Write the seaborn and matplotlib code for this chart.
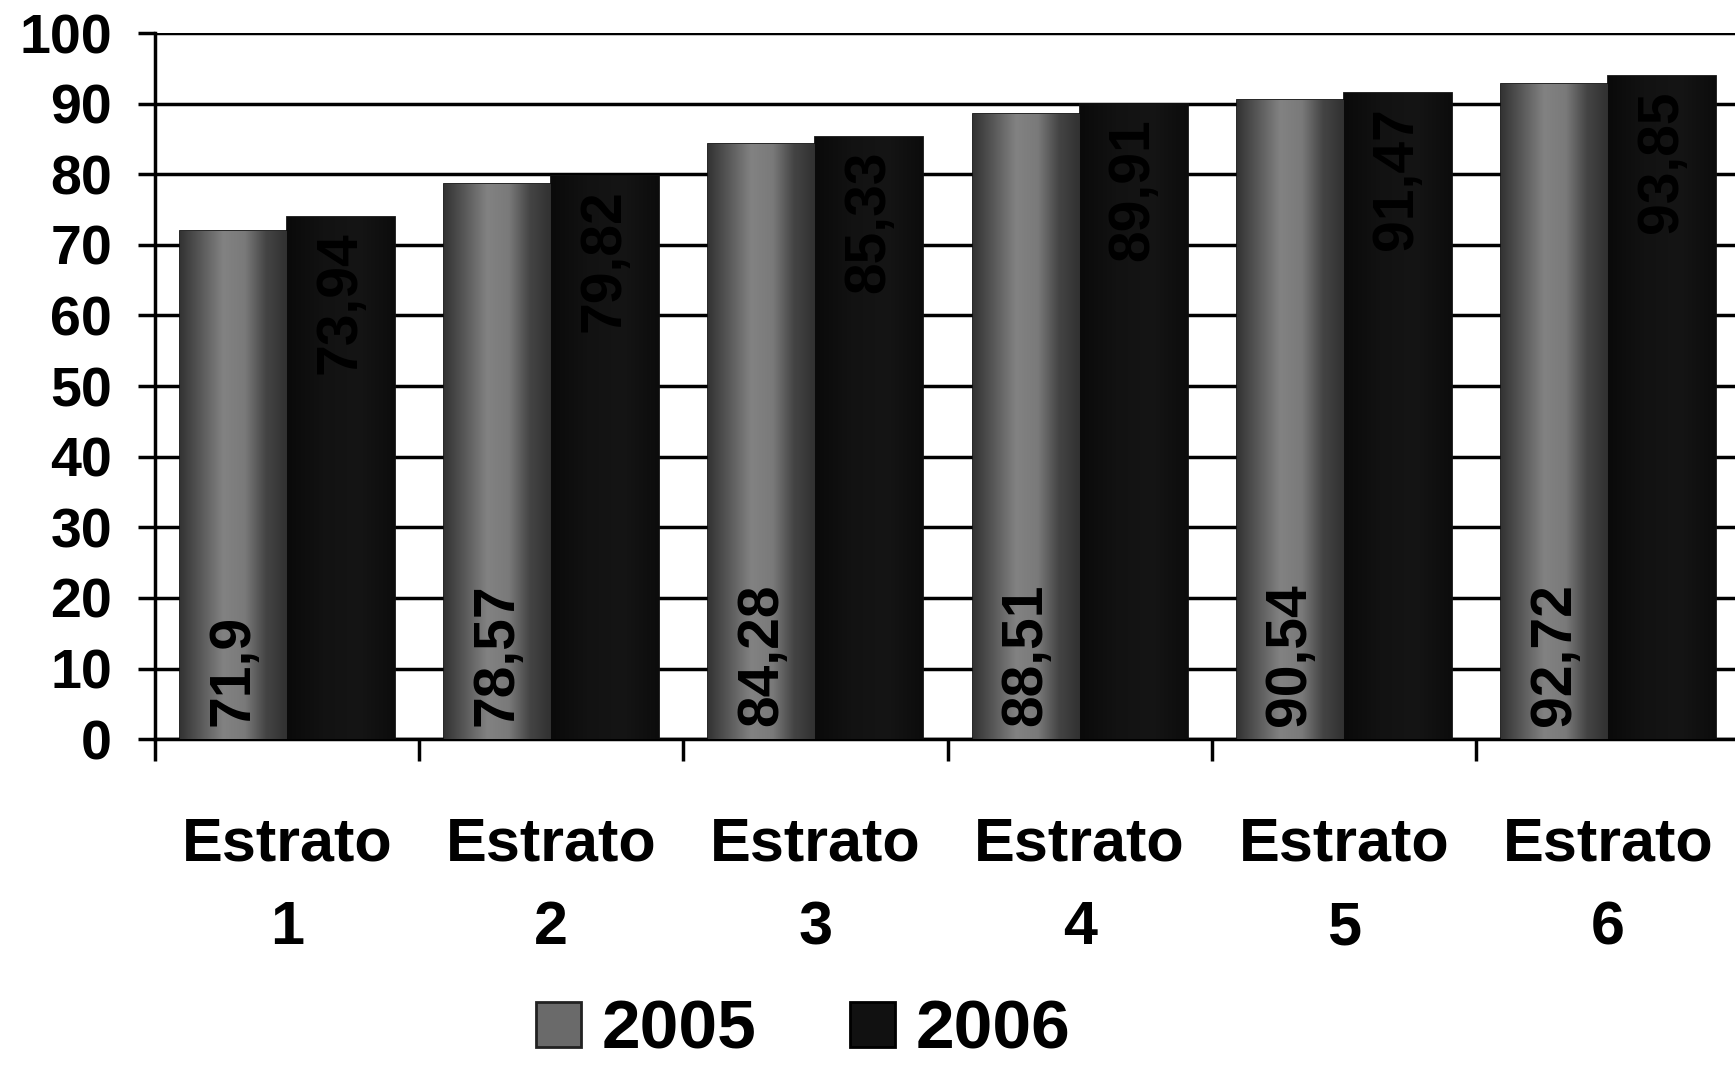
import numpy as np
import pandas as pd
import matplotlib
matplotlib.use("Agg")
import matplotlib.pyplot as plt
from matplotlib.colors import LinearSegmentedColormap
from matplotlib.patches import Patch
from matplotlib.ticker import FixedLocator
import seaborn as sns

# ── DATA ──
estratos = ["Estrato\n1", "Estrato\n2", "Estrato\n3",
            "Estrato\n4", "Estrato\n5", "Estrato\n6"]
anos     = ["2005", "2006"]
v2005    = [71.9, 78.57, 84.28, 88.51, 90.54, 92.72]
v2006    = [73.94, 79.82, 85.33, 89.91, 91.47, 93.85]
yticks   = [0, 10, 20, 30, 40, 50, 60, 70, 80, 90, 100]

df = pd.DataFrame({
    "estrato": estratos * 2,
    "ano": [anos[0]] * len(v2005) + [anos[1]] * len(v2006),
    "valor": v2005 + v2006,
})

# ── STYLE ──
sns.set_theme(style="white")
plt.rcParams["font.family"] = ["Liberation Sans", "DejaVu Sans"]
plt.rcParams["font.weight"] = "bold"
plt.rcParams["text.color"] = "black"

cmap_2005 = LinearSegmentedColormap.from_list(
    "g2005", ["#333333", "#5a5a5a", "#828282", "#7a7a7a", "#444444", "#303030"])
cmap_2006 = LinearSegmentedColormap.from_list(
    "g2006", ["#0a0a0a", "#121212", "#151515", "#0c0c0c"])
grad = np.linspace(0, 1, 256).reshape(1, -1)

fig = plt.figure(figsize=(17.35, 10.65), dpi=100)
ax = fig.add_axes([0.0893, 0.306, 0.9137, 0.663])

sns.barplot(data=df, x="estrato", y="valor", hue="ano",
            palette={"2005": "#6a6a6a", "2006": "#111111"},
            width=0.81, edgecolor="#111111", linewidth=2,
            legend=False, ax=ax, zorder=3)

# gradient fill clipped to each bar
for cont, cm in zip(ax.containers, [cmap_2005, cmap_2006]):
    for bar in cont:
        x0, y0 = bar.get_x(), bar.get_y()
        w, h = bar.get_width(), bar.get_height()
        im = ax.imshow(grad, extent=[x0, x0 + w, y0, y0 + h],
                       aspect="auto", cmap=cm, zorder=3.5,
                       interpolation="bilinear")
        im.set_clip_path(bar)

# value labels
def fmt(v):
    return str(v).replace(".", ",")

for bar, v in zip(ax.containers[0], v2005):
    ax.text(bar.get_x() + bar.get_width() / 2, 1.8, fmt(v),
            rotation=90, ha="center", va="bottom",
            fontsize=41, fontweight="bold", color="black", zorder=5)
for bar, v in zip(ax.containers[1], v2006):
    ax.text(bar.get_x() + bar.get_width() / 2, bar.get_height() - 2.0, fmt(v),
            rotation=90, ha="center", va="top",
            fontsize=41, fontweight="bold", color="black", zorder=5)

# ── AXES ──
ax.set_xlim(-0.5, len(estratos) - 0.5)
ax.set_ylim(0, 100)
ax.set_yticks(yticks)
ax.set_yticklabels([str(t) for t in yticks], fontsize=40, fontweight="bold")
ax.tick_params(axis="y", direction="out", length=12, width=2.5,
               pad=19, colors="black", left=True)
ax.tick_params(axis="x", which="major", length=0, pad=56, labelsize=44,
               labelcolor="black")
for lab in ax.get_xticklabels():
    lab.set_fontweight("bold")
    lab.set_linespacing(1.6)
ax.xaxis.set_minor_locator(FixedLocator(np.arange(-0.5, len(estratos), 1.0)))
ax.tick_params(axis="x", which="minor", direction="out", length=16,
               width=2.5, color="black", bottom=True)

ax.yaxis.grid(True, color="black", linewidth=2.5)
ax.xaxis.grid(False)
ax.set_axisbelow(True)
ax.set_xlabel("")
ax.set_ylabel("")
for side in ["top", "right"]:
    ax.spines[side].set_visible(False)
for side in ["left", "bottom"]:
    ax.spines[side].set_color("black")
    ax.spines[side].set_linewidth(2.5)

# ── LEGEND ──
handles = [Patch(facecolor="#6a6a6a", edgecolor="#222222", linewidth=2),
           Patch(facecolor="#111111", edgecolor="#000000", linewidth=2)]
leg = fig.legend(handles, anos, loc="center", bbox_to_anchor=(0.463, 0.032),
                 ncol=2, frameon=False, prop={"size": 50, "weight": "bold"},
                 handlelength=0.64, handleheight=0.64, handletextpad=0.3,
                 columnspacing=1.35, borderaxespad=0, borderpad=0)
for t in leg.get_texts():
    t.set_color("black")

plt.savefig("out.png", dpi=100)
